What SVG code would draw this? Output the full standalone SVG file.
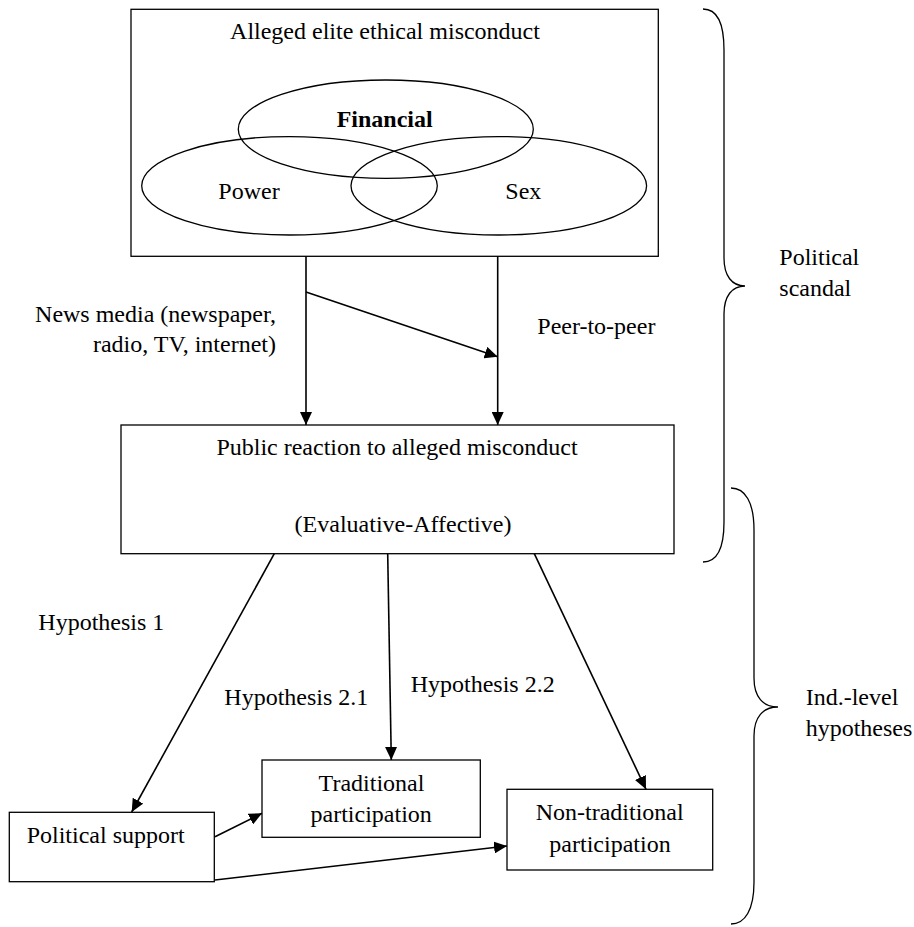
<svg xmlns="http://www.w3.org/2000/svg" width="914" height="927" viewBox="0 0 914 927">
<style>
text{font-family:"Liberation Serif","Times New Roman",serif;font-size:24px;fill:#000}
.box{fill:none;stroke:#000;stroke-width:1.3}
.ell{fill:none;stroke:#000;stroke-width:1.3}
.arr{fill:none;stroke:#000;stroke-width:1.6;marker-end:url(#ah)}
.brace{fill:none;stroke:#000;stroke-width:1.3}
.m{text-anchor:middle}
.e{text-anchor:end}
.b{font-weight:bold}
</style>
<defs>
<marker id="ah" markerUnits="userSpaceOnUse" markerWidth="14" markerHeight="12" refX="13" refY="6" orient="auto">
<path d="M0,0 L13,6 L0,12 z" fill="#000"/>
</marker>
</defs>
<rect width="914" height="927" fill="#fff"/>
<g id="misconduct">
<rect class="box" x="131" y="9.3" width="527.3" height="247"/>
<text class="m" x="385" y="39">Alleged elite ethical misconduct</text>
<g id="financial">
<ellipse class="ell" cx="385.8" cy="129.2" rx="147.5" ry="49.2"/>
<text class="m b" x="384.7" y="126.7">Financial</text>
</g>
<g id="power">
<ellipse class="ell" cx="289.5" cy="185.8" rx="147.8" ry="49.2"/>
<text class="m" x="249" y="199">Power</text>
</g>
<g id="sex">
<ellipse class="ell" cx="498.8" cy="185.8" rx="147.8" ry="49.2"/>
<text class="m" x="523.3" y="199">Sex</text>
</g>
</g>
<g id="reaction">
<rect class="box" x="121" y="425" width="553" height="128.7"/>
<text class="m" x="397" y="455">Public reaction to alleged misconduct</text>
<text class="m" x="403" y="531.7">(Evaluative-Affective)</text>
</g>
<g id="support">
<rect class="box" x="9.3" y="812.3" width="205" height="69.4"/>
<text x="26.7" y="842.7">Political support</text>
</g>
<g id="traditional">
<rect class="box" x="262" y="760" width="218.3" height="77.3"/>
<text class="m" x="371.5" y="790.7">Traditional</text>
<text class="m" x="371.2" y="822.3">participation</text>
</g>
<g id="nontraditional">
<rect class="box" x="507" y="789.3" width="205.7" height="80.7"/>
<text class="m" x="609.7" y="820">Non-traditional</text>
<text class="m" x="610" y="851.7">participation</text>
</g>
<g id="connectors">
<path class="arr" d="M306,256.3 L306,425"/>
<path class="arr" d="M497.7,256.3 L497.7,425"/>
<path class="arr" d="M306,292 L497.7,356.7"/>
<path class="arr" d="M274.3,553.7 L131.7,812"/>
<path class="arr" d="M387.7,553.7 L391.3,760"/>
<path class="arr" d="M534.3,553.7 L646,789.3"/>
<path class="arr" d="M215,836.7 L262,813.3"/>
<path class="arr" d="M215,880 L507,846"/>
</g>
<g id="labels">
<text class="e" x="276" y="321.7">News media (newspaper,</text>
<text class="e" x="276" y="352.3">radio, TV, internet)</text>
<text x="537.3" y="334.3">Peer-to-peer</text>
<text x="38.3" y="630">Hypothesis 1</text>
<text x="224.3" y="705">Hypothesis 2.1</text>
<text x="410.7" y="692">Hypothesis 2.2</text>
</g>
<g id="scandal-brace">
<path class="brace" d="M703,9 C716,9 724,22 724,50 L724,258 C724,276 732,286 745,286 C732,286 724,296 724,314 L724,522 C724,550 716,562 703,562"/>
<text x="779.3" y="265">Political</text>
<text x="779.3" y="296">scandal</text>
</g>
<g id="hypotheses-brace">
<path class="brace" d="M731,488 C745,488 754,502 754,530 L754,678 C754,697 763,707 778,707 C763,707 754,717 754,736 L754,882 C754,910 745,924 731,924"/>
<text x="805.7" y="705">Ind.-level</text>
<text x="805.7" y="736">hypotheses</text>
</g>
</svg>
